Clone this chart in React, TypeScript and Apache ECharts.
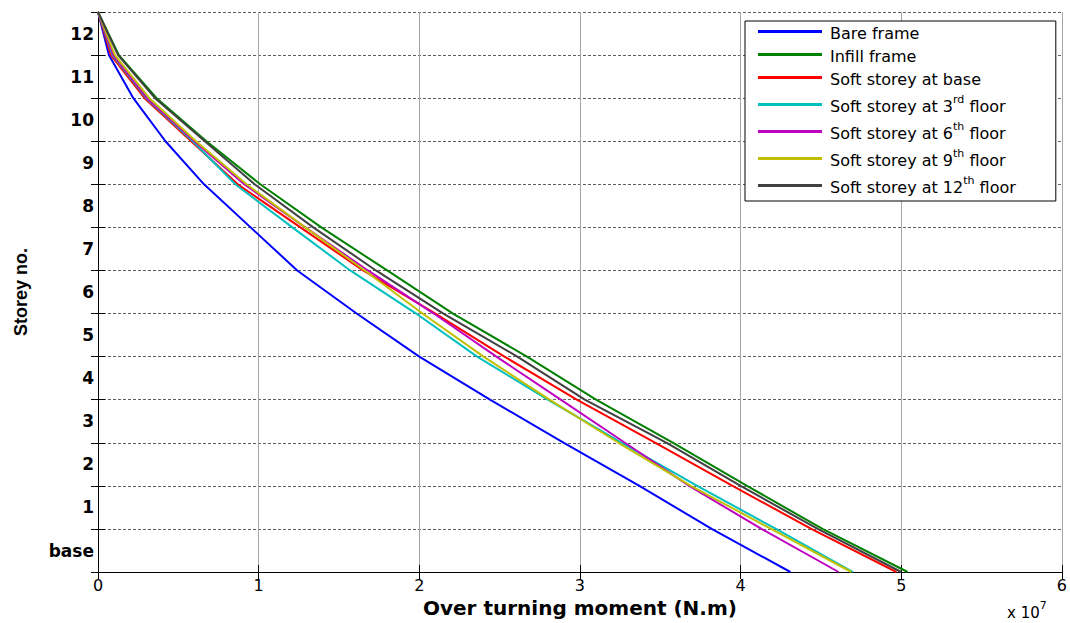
import React, { useEffect, useRef } from "react";
import * as echarts from "echarts";

// Storey levels (13 = roof/top, 0 = base); one value per level, top to bottom
const storeyLevels = [13, 12, 11, 10, 9, 8, 7, 6, 5, 4, 3, 2, 1, 0];

// Over turning moment (x 10^7 N.m) at each level
const bareFrame = [0, 0.068, 0.22, 0.42, 0.66, 0.95, 1.24, 1.61, 2.0, 2.44, 2.9, 3.37, 3.82, 4.31];
const infillFrame = [0, 0.13, 0.365, 0.675, 1.01, 1.39, 1.8, 2.21, 2.67, 3.1, 3.58, 4.04, 4.51, 5.04];
const softBase = [0, 0.08, 0.29, 0.58, 0.87, 1.26, 1.65, 2.1, 2.53, 2.98, 3.47, 3.95, 4.44, 4.97];
const soft3rd = [0, 0.09, 0.3, 0.59, 0.855, 1.21, 1.57, 1.98, 2.36, 2.8, 3.26, 3.73, 4.22, 4.7];
const soft6th = [0, 0.095, 0.305, 0.6, 0.91, 1.29, 1.68, 2.09, 2.48, 2.88, 3.28, 3.68, 4.13, 4.61];
const soft9th = [0, 0.105, 0.32, 0.61, 0.925, 1.29, 1.66, 2.02, 2.4, 2.81, 3.24, 3.69, 4.19, 4.69];
const soft12th = [0, 0.125, 0.355, 0.665, 0.975, 1.34, 1.73, 2.15, 2.61, 3.03, 3.54, 4.0, 4.48, 5.0];

const seriesNames = [
  "Bare frame",
  "Infill frame",
  "Soft storey at base",
  "Soft storey at 3rd floor",
  "Soft storey at 6th floor",
  "Soft storey at 9th floor",
  "Soft storey at 12th floor",
];
const legendRich = [
  "{n|Bare frame}",
  "{n|Infill frame}",
  "{n|Soft storey at base}",
  "{n|Soft storey at 3}{s|rd}{n| floor}",
  "{n|Soft storey at 6}{s|th}{n| floor}",
  "{n|Soft storey at 9}{s|th}{n| floor}",
  "{n|Soft storey at 12}{s|th}{n| floor}",
];
const seriesValues = [bareFrame, infillFrame, softBase, soft3rd, soft6th, soft9th, soft12th];
const seriesColors = ["#0000ff", "#008000", "#ff0000", "#00bfbf", "#bf00bf", "#bfbf00", "#404040"];

// Tick labels
const yTickLabels = ["base", "1", "2", "3", "4", "5", "6", "7", "8", "9", "10", "11", "12", ""];
const xTickLabels = ["0", "1", "2", "3", "4", "5", "6"];

export default function App() {
  const ref = useRef<HTMLDivElement>(null);

  useEffect(() => {
    document.body.style.margin = "0";
    if (!ref.current) return;
    const chart = echarts.init(ref.current, undefined, { renderer: "svg" });

    const axisLine = { show: true, lineStyle: { color: "#000", width: 1 } };
    const tick = { show: true, inside: true, length: 7, lineStyle: { color: "#000" } };

    const option: any = {
      animation: false,
      backgroundColor: "#fff",
      grid: { left: 98, right: 8, top: 12, bottom: 51, containLabel: false },
      legend: {
        orient: "vertical",
        left: 745,
        top: 21,
        padding: [4, 40, 6, 13],
        itemGap: 7,
        itemWidth: 64,
        itemHeight: 3,
        icon: "rect",
        borderColor: "#000",
        borderWidth: 1,
        backgroundColor: "#fff",
        data: seriesNames,
        formatter: (name: string) => legendRich[seriesNames.indexOf(name)],
        textStyle: {
          color: "#000",
          fontFamily: "DejaVu Sans",
          fontSize: 16,
          padding: [0, 0, 0, 3],
          rich: {
            n: { fontFamily: "DejaVu Sans", fontSize: 16, lineHeight: 19, color: "#000", verticalAlign: "bottom" },
            s: {
              fontFamily: "DejaVu Sans",
              fontSize: 11,
              lineHeight: 13,
              color: "#000",
              padding: [0, 0, 9, 0],
              verticalAlign: "bottom",
            },
          },
        },
      },
      xAxis: [
        {
          type: "value",
          position: "bottom",
          min: 0,
          max: 6,
          interval: 1,
          name: "Over turning moment (N.m)",
          nameLocation: "middle",
          nameGap: 19,
          nameTextStyle: { fontFamily: "DejaVu Sans", fontWeight: "bold", fontSize: 20, color: "#000" },
          axisLine,
          axisTick: tick,
          axisLabel: {
            color: "#000",
            fontFamily: "DejaVu Sans",
            fontSize: 16,
            margin: 5,
            formatter: (v: number) => xTickLabels[v] ?? "",
          },
          splitLine: { show: true, lineStyle: { color: "#a6a6a6", width: 1, type: "solid" } },
        },
        {
          type: "value",
          position: "top",
          min: 0,
          max: 6,
          interval: 1,
          axisLine,
          axisTick: tick,
          axisLabel: { show: false },
          splitLine: { show: false },
        },
      ],
      yAxis: [
        {
          type: "value",
          position: "left",
          min: 0,
          max: 13,
          interval: 1,
          name: "Storey no.",
          nameLocation: "middle",
          nameGap: 68,
          nameTextStyle: { fontFamily: "Liberation Sans", fontWeight: "bold", fontSize: 18, color: "#000" },
          axisLine,
          axisTick: tick,
          axisLabel: {
            color: "#000",
            fontFamily: "DejaVu Sans",
            fontWeight: "bold",
            fontSize: 17,
            margin: 4,
            verticalAlign: "bottom",
            lineHeight: 43,
            formatter: (v: number) => yTickLabels[v] ?? "",
          },
          splitLine: { show: true, lineStyle: { color: "#606060", width: 1, type: [3, 2] } },
        },
        {
          type: "value",
          position: "right",
          min: 0,
          max: 13,
          interval: 1,
          axisLine,
          axisTick: tick,
          axisLabel: { show: false },
          splitLine: { show: false },
        },
      ],
      graphic: [
        {
          type: "text",
          x: 1007,
          y: 602,
          style: {
            text: "{a|x 10}{b|7}",
            rich: {
              a: { fontFamily: "DejaVu Sans", fontSize: 15, lineHeight: 18, fill: "#000", verticalAlign: "bottom" },
              b: {
                fontFamily: "DejaVu Sans",
                fontSize: 11,
                lineHeight: 12,
                fill: "#000",
                padding: [0, 0, 9, 0],
                verticalAlign: "bottom",
              },
            },
          },
        },
      ],
      series: seriesNames.map((name, i) => ({
        name,
        type: "line",
        xAxisIndex: 0,
        yAxisIndex: 0,
        symbol: "none",
        lineStyle: { color: seriesColors[i], width: 2 },
        itemStyle: { color: seriesColors[i] },
        data: seriesValues[i].map((v, k) => [v, storeyLevels[k]]),
      })),
    };

    chart.setOption(option);
    return () => chart.dispose();
  }, []);

  return <div ref={ref} style={{ width: 1070, height: 623 }} />;
}
